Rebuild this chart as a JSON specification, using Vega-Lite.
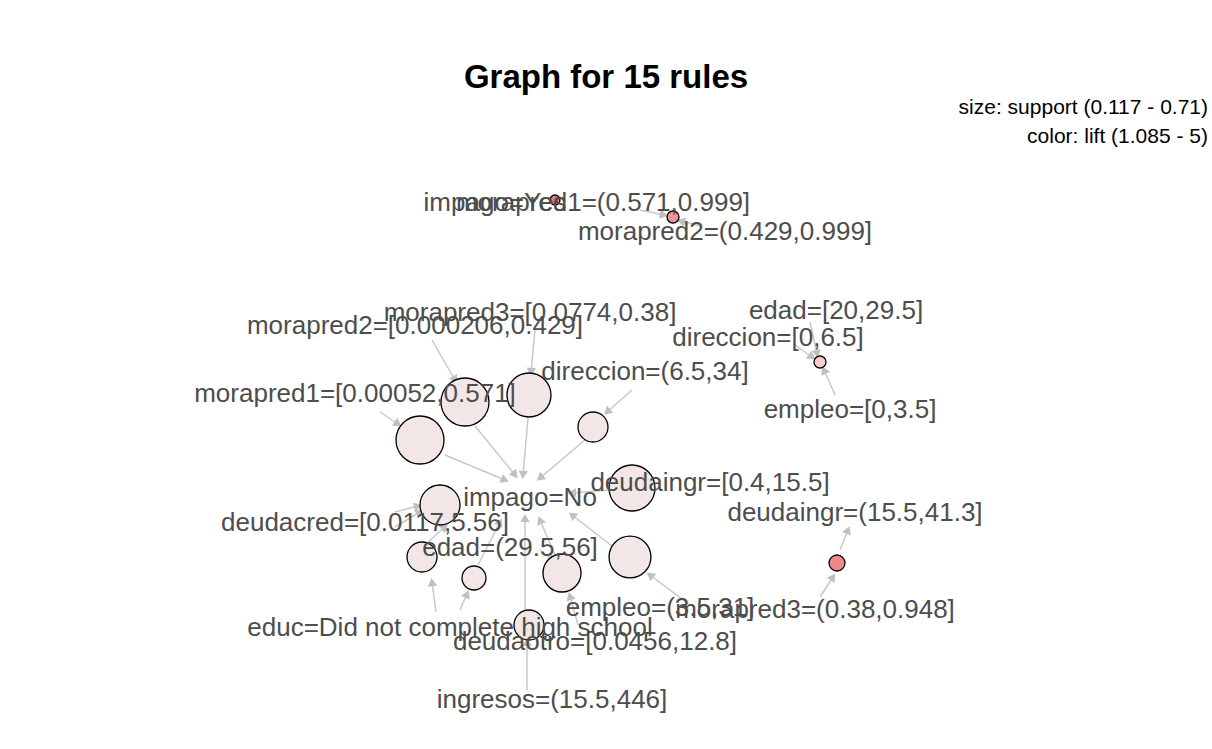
{
"$schema":"https://vega.github.io/schema/vega-lite/v6.json",
"width":1212,"height":749,"padding":0,"autosize":{"type":"none"},
"background":"white",
"config":{"view":{"stroke":null},"font":"Liberation Sans"},
"title":{"text":"Graph for 15 rules","fontSize":33,"fontWeight":"bold","font":"Liberation Sans","anchor":"middle","offset":-95,"color":"black"},
"datasets":{
"edges":[
{"x":640,"y":210,"x2":664,"y2":215},{"x":700,"y":226,"x2":681,"y2":221},
{"x":810,"y":322,"x2":817,"y2":354},{"x":795,"y":345,"x2":812,"y2":357},{"x":835,"y":395,"x2":824,"y2":370},
{"x":432,"y":340,"x2":455,"y2":380},{"x":380,"y":412,"x2":398,"y2":424},{"x":535,"y":330,"x2":531,"y2":372},{"x":632,"y":390,"x2":607,"y2":412},
{"x":445,"y":455,"x2":505,"y2":480},{"x":475,"y":426,"x2":515,"y2":475},{"x":528,"y":418,"x2":523,"y2":475},{"x":585,"y":440,"x2":540,"y2":478},
{"x":610,"y":490,"x2":572,"y2":493},{"x":612,"y":546,"x2":572,"y2":515},{"x":395,"y":527,"x2":420,"y2":512},{"x":395,"y":512,"x2":418,"y2":506},
{"x":436,"y":612,"x2":432,"y2":582},{"x":460,"y":610,"x2":467,"y2":594},{"x":578,"y":625,"x2":570,"y2":596},{"x":527,"y":690,"x2":527,"y2":642},
{"x":525,"y":610,"x2":525,"y2":518},{"x":690,"y":605,"x2":650,"y2":575},{"x":820,"y":597,"x2":833,"y2":577},{"x":840,"y":550,"x2":848,"y2":530},
{"x":555,"y":555,"x2":540,"y2":520},{"x":478,"y":565,"x2":500,"y2":522},{"x":428,"y":542,"x2":445,"y2":527},{"x":540,"y":550,"x2":552,"y2":560}
],
"nodes":[
{"x":555,"y":200,"support":0.117,"lift":4.4},{"x":673,"y":217,"support":0.129,"lift":3.6},{"x":820,"y":362,"support":0.129,"lift":1.9},
{"x":420,"y":440,"support":0.71,"lift":1.085},{"x":465,"y":402,"support":0.71,"lift":1.085},{"x":529,"y":395,"support":0.611,"lift":1.085},
{"x":593,"y":427,"support":0.332,"lift":1.1},{"x":632,"y":488,"support":0.659,"lift":1.1},{"x":440,"y":505,"support":0.52,"lift":1.1},
{"x":630,"y":557,"support":0.562,"lift":1.1},{"x":562,"y":573,"support":0.479,"lift":1.1},{"x":474,"y":578,"support":0.245,"lift":1.1},
{"x":422,"y":557,"support":0.332,"lift":1.1},{"x":529,"y":625,"support":0.332,"lift":1.1},{"x":837,"y":563,"support":0.159,"lift":3.9}
],
"labels":[
{"x":495,"y":203,"t":"impago=Yes"},{"x":603,"y":203,"t":"morapred1=(0.571,0.999]"},{"x":725,"y":232,"t":"morapred2=(0.429,0.999]"},
{"x":530,"y":313,"t":"morapred3=[0.0774,0.38]"},{"x":415,"y":326,"t":"morapred2=[0.000206,0.429]"},{"x":836,"y":311,"t":"edad=[20,29.5]"},
{"x":768,"y":338,"t":"direccion=[0,6.5]"},{"x":645,"y":372,"t":"direccion=(6.5,34]"},{"x":355,"y":394,"t":"morapred1=[0.00052,0.571]"},
{"x":850,"y":410,"t":"empleo=[0,3.5]"},{"x":710,"y":483,"t":"deudaingr=[0.4,15.5]"},{"x":530,"y":498,"t":"impago=No"},
{"x":855,"y":513,"t":"deudaingr=(15.5,41.3]"},{"x":365,"y":523,"t":"deudacred=[0.0117,5.56]"},{"x":510,"y":548,"t":"edad=(29.5,56]"},
{"x":660,"y":608,"t":"empleo=(3.5,31]"},{"x":815,"y":610,"t":"morapred3=(0.38,0.948]"},{"x":450,"y":628,"t":"educ=Did not complete high school"},
{"x":595,"y":642,"t":"deudaotro=[0.0456,12.8]"},{"x":552,"y":700,"t":"ingresos=(15.5,446]"}
],
"legend":[{"x":1208,"y":108,"t":"size: support (0.117 - 0.71)"},{"x":1208,"y":137,"t":"color: lift (1.085 - 5)"}]
},
"layer":[
{"data":{"name":"edges"},"mark":{"type":"rule","color":"#c8c8c8","strokeWidth":1.5},
"encoding":{"x":{"field":"x","type":"quantitative","scale":{"domain":[0,1212],"nice":false,"zero":false},"axis":null},
"y":{"field":"y","type":"quantitative","scale":{"domain":[0,749],"nice":false,"zero":false,"reverse":true},"axis":null},
"x2":{"field":"x2"},"y2":{"field":"y2"}}},
{"data":{"name":"edges"},"transform":[{"calculate":"atan2(datum.x2-datum.x, -(datum.y2-datum.y))*180/PI","as":"ang"}],
"mark":{"type":"point","shape":"triangle-up","filled":true,"color":"#c0c0c0","size":90,"opacity":1},
"encoding":{"x":{"field":"x2","type":"quantitative"},"y":{"field":"y2","type":"quantitative"},"angle":{"field":"ang","type":"quantitative","scale":null}}},
{"data":{"name":"nodes"},"mark":{"type":"circle","stroke":"black","strokeWidth":1.3,"opacity":1},
"encoding":{"x":{"field":"x","type":"quantitative"},"y":{"field":"y","type":"quantitative"},
"size":{"field":"support","type":"quantitative","scale":{"domain":[0.117,0.71],"range":[100,2304],"zero":false},"legend":null},
"fill":{"field":"lift","type":"quantitative","scale":{"domain":[1.085,5],"range":["#f3e6e6","#e8606c"]},"legend":null}}},
{"data":{"name":"labels"},"mark":{"type":"text","fontSize":26,"color":"#4d4d4d","align":"center","baseline":"middle"},
"encoding":{"x":{"field":"x","type":"quantitative"},"y":{"field":"y","type":"quantitative"},"text":{"field":"t"}}},
{"data":{"name":"legend"},"mark":{"type":"text","fontSize":21,"color":"black","align":"right","baseline":"middle"},
"encoding":{"x":{"field":"x","type":"quantitative"},"y":{"field":"y","type":"quantitative"},"text":{"field":"t"}}}
]
}
